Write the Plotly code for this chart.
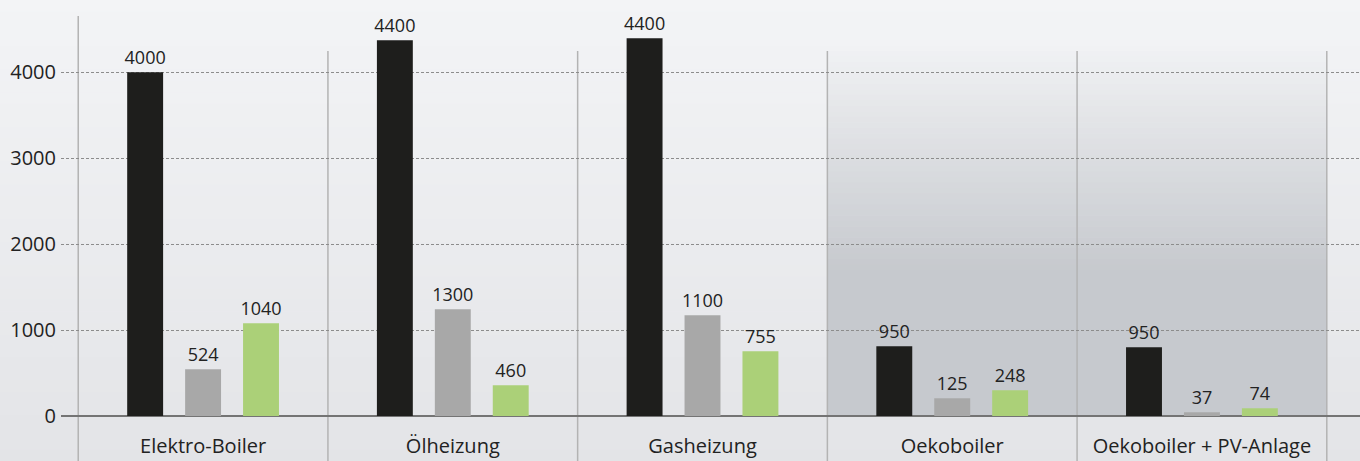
import plotly.graph_objects as go

categories = ["Elektro-Boiler", "Ölheizung", "Gasheizung", "Oekoboiler", "Oekoboiler + PV-Anlage"]

# bar heights as drawn
black_values = [4000, 4373, 4397, 811, 800]
grey_values = [543, 1242, 1172, 206, 43]
green_values = [1079, 357, 753, 299, 90]

# value labels printed above the bars
black_labels = ["4000", "4400", "4400", "950", "950"]
grey_labels = ["524", "1300", "1100", "125", "37"]
green_labels = ["1040", "460", "755", "248", "74"]

y_ticks = [0, 1000, 2000, 3000, 4000]

FONT = "Open Sans"
TXT = "#222222"

fig = go.Figure()
for vals, labs, col in [
    (black_values, black_labels, "#1e1e1c"),
    (grey_values, grey_labels, "#a8a8a8"),
    (green_values, green_labels, "#abd078"),
]:
    fig.add_trace(go.Bar(
        x=categories, y=vals, text=labs, textposition="outside",
        textfont=dict(family=FONT, size=18, color=TXT),
        constraintext="none", cliponaxis=False,
        marker=dict(color=col, line=dict(width=0)),
        hoverinfo="skip", showlegend=False,
    ))

W, H = 1360, 461
ML, MB, MT = 61, 45, 0
plot_h = H - MB - MT


def hex2rgb(h):
    h = h.lstrip("#")
    return tuple(int(h[i:i + 2], 16) for i in (0, 2, 4))


def mix(c1, c2, t):
    a, b = hex2rgb(c1), hex2rgb(c2)
    return "rgb(%d,%d,%d)" % tuple(round(a[i] + (b[i] - a[i]) * t) for i in range(3))


def px2paper(py):
    # pixel row (from top of figure) -> paper y
    return (H - MB - py) / plot_h


shapes = []
# page background gradient
N = 40
top_c, bot_c = "#f3f4f6", "#e3e4e7"
for i in range(N):
    y0 = i * H / N
    y1 = (i + 1) * H / N + 0.6
    shapes.append(dict(type="rect", xref="paper", yref="paper",
                       x0=0 - ML / (W - ML), x1=1,
                       y0=px2paper(y1), y1=px2paper(y0),
                       fillcolor=mix(top_c, bot_c, (i + 0.5) / N),
                       line=dict(width=0), layer="below"))

# shaded region behind last two groups
g_top, g_mid, g_end = 51, 270, 416
M = 40
light_c, dark_c = "#f0f1f3", "#c6c9ce"
for i in range(M):
    y0 = g_top + i * (g_mid - g_top) / M
    y1 = g_top + (i + 1) * (g_mid - g_top) / M + 0.6
    shapes.append(dict(type="rect", xref="x", yref="paper", x0=2.5, x1=4.5,
                       y0=px2paper(y1), y1=px2paper(y0),
                       fillcolor=mix(light_c, dark_c, (i + 0.5) / M),
                       line=dict(width=0), layer="below"))
shapes.append(dict(type="rect", xref="x", yref="paper", x0=2.5, x1=4.5,
                   y0=px2paper(g_end), y1=px2paper(g_mid),
                   fillcolor=dark_c, line=dict(width=0), layer="below"))

# group separators
for k, xs in enumerate([-0.5, 0.5, 1.5, 2.5, 3.5, 4.5]):
    top_px = 16 if k == 0 else 51
    shapes.append(dict(type="line", xref="x", yref="paper", x0=xs, x1=xs,
                       y0=px2paper(H), y1=px2paper(top_px),
                       line=dict(color="#b3b3b3", width=1.5), layer="below"))

fig.update_layout(
    width=W, height=H,
    margin=dict(l=ML, r=0, t=MT, b=MB, pad=0),
    paper_bgcolor="#eceef0", plot_bgcolor="rgba(0,0,0,0)",
    barmode="group", bargap=0.304, bargroupgap=0.38,
    shapes=shapes,
    font=dict(family=FONT, color=TXT),
    xaxis=dict(type="category", range=[-0.569, 4.633], showgrid=False,
               zeroline=False, showline=False, ticks="",
               tickfont=dict(family=FONT, size=20, color=TXT),
               ticklabelstandoff=16, fixedrange=True),
    yaxis=dict(range=[0, plot_h / 0.08593], tickvals=y_ticks,
               ticktext=[str(v) for v in y_ticks],
               showgrid=True, gridcolor="#8c8c8c", gridwidth=1, griddash="3px,2px",
               zeroline=True, zerolinecolor="#747474", zerolinewidth=2,
               showline=False, ticks="",
               tickfont=dict(family=FONT, size=20, color=TXT),
               ticklabelstandoff=4, fixedrange=True),
)

fig.write_html("out.html", config={"displayModeBar": False},
               post_script="document.body.style.margin='0';")
